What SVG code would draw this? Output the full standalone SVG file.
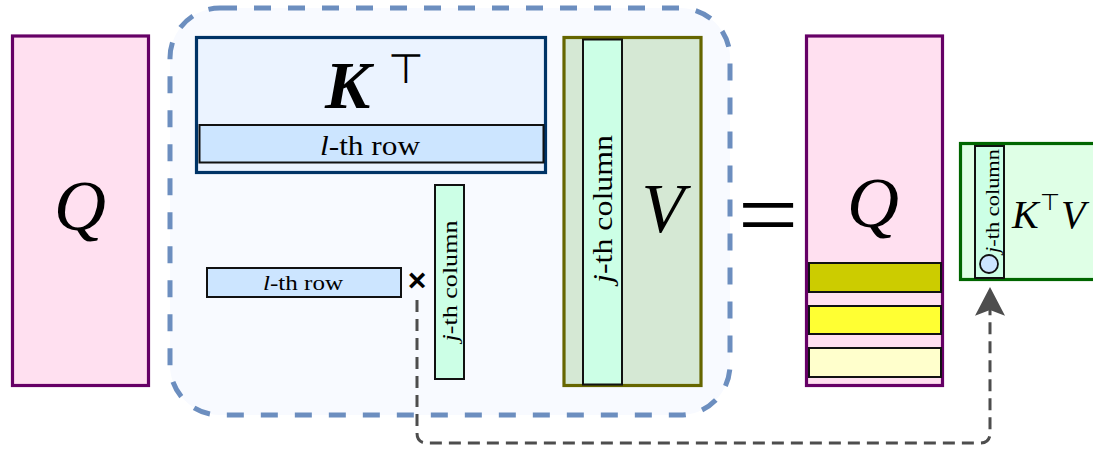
<svg xmlns="http://www.w3.org/2000/svg" width="1093" height="451" viewBox="0 0 1093 451">
<style>
.serif{font-family:"Liberation Serif","Times New Roman",serif;fill:#000}
.it{font-style:italic}
.math{font-family:"DejaVu Sans",sans-serif;font-weight:200;font-style:normal}
.cell{stroke:#111111;stroke-width:2}
.col{fill:#ccffe6}
.row{fill:#cce5ff}
</style>
<defs>
<marker id="arrow" markerUnits="userSpaceOnUse" markerWidth="30" markerHeight="30" refX="5" refY="13" orient="auto" viewBox="0 0 26 26">
<path d="M0,0 L25,13 L0,26 L5,13 Z" fill="#4d4d4d" stroke="none"/>
</marker>
</defs>
<rect width="1093" height="451" fill="#ffffff"/>

<g id="container">
<rect x="170" y="8" width="560" height="407" rx="50" ry="50" fill="#f8faff" stroke="#6c8ebf" stroke-width="5" stroke-dasharray="17 17"/>
</g>

<g id="Q-left">
<rect x="12.5" y="36" width="136" height="349.5" fill="#ffe0f0" stroke="#660066" stroke-width="3.2"/>
<text class="serif it" x="80" y="230" font-size="72" text-anchor="middle">Q</text>
</g>

<g id="KT">
<rect x="196.5" y="37.5" width="349" height="135" fill="#ebf3ff" stroke="#003366" stroke-width="3.2"/>
<text class="serif" font-size="68"><tspan class="it" x="325" y="108" font-weight="bold">K</tspan><tspan class="math" x="388" y="83" font-size="41">⊤</tspan></text>
</g>

<g id="KT-row">
<rect class="cell row" x="199.5" y="125" width="344" height="37.5"/>
<text class="serif" x="320" y="155" font-size="27" textLength="100" lengthAdjust="spacingAndGlyphs"><tspan class="it">l</tspan>-th row</text>
</g>

<g id="row-single">
<rect class="cell row" x="207" y="268" width="194" height="29"/>
<text class="serif" x="263" y="290" font-size="22" textLength="80" lengthAdjust="spacingAndGlyphs"><tspan class="it">l</tspan>-th row</text>
</g>

<g id="times">
<text x="417" y="291" font-family="Liberation Sans, Arial, sans-serif" font-weight="bold" font-size="32" text-anchor="middle">×</text>
</g>

<g id="col-single">
<rect class="cell col" x="435" y="185" width="29" height="194"/>
<text class="serif" transform="translate(457,281) rotate(-90)" x="0" y="0" font-size="22" text-anchor="middle" textLength="121" lengthAdjust="spacingAndGlyphs"><tspan class="it">j</tspan>-th column</text>
</g>

<g id="V">
<rect x="564" y="37.5" width="137" height="348" fill="#d5e8d4" stroke="#666600" stroke-width="3.2"/>
<rect class="cell col" x="583" y="39.5" width="39" height="345"/>
<text class="serif" transform="translate(612,209) rotate(-90)" x="0" y="0" font-size="27" text-anchor="middle" textLength="148" lengthAdjust="spacingAndGlyphs"><tspan class="it">j</tspan>-th column</text>
<text class="serif it" x="663" y="232" font-size="70" text-anchor="middle">V</text>
</g>

<g id="equals">
<text class="serif" transform="translate(768,247) scale(1.12,1)" x="0" y="0" font-size="96" text-anchor="middle">=</text>
</g>

<g id="Q-right">
<rect x="806.5" y="36" width="136" height="349.5" fill="#ffe0f0" stroke="#660066" stroke-width="3.2"/>
<text class="serif it" x="873" y="227" font-size="72" text-anchor="middle">Q</text>
<rect class="cell" x="809" y="263" width="132" height="29" fill="#cccc00"/>
<rect class="cell" x="809" y="306" width="132" height="28" fill="#ffff33"/>
<rect class="cell" x="809" y="348" width="132" height="29" fill="#ffffcc"/>
</g>

<g id="KTV">
<rect x="960.5" y="143.5" width="140" height="136" fill="#dfffe6" stroke="#006600" stroke-width="3.2"/>
<rect class="cell col" x="975" y="146" width="29" height="132"/>
<text class="serif" transform="translate(999,201) rotate(-90)" x="0" y="0" font-size="19" text-anchor="middle" textLength="104" lengthAdjust="spacingAndGlyphs"><tspan class="it">j</tspan>-th column</text>
<circle cx="989" cy="264" r="9" fill="#cce5ff" stroke="#111111" stroke-width="1.8"/>
<text class="serif it" font-size="40"><tspan x="1012" y="228">K</tspan><tspan class="math" x="1040" y="210" font-size="23">⊤</tspan><tspan x="1061" y="228">V</tspan></text>
</g>

<g id="connectors">
<path d="M417,300 L417,433 Q417,443 427,443 L980,443 Q990,443 990,433 L990,310" fill="none" stroke="#4d4d4d" stroke-width="3" stroke-dasharray="12 7" marker-end="url(#arrow)"/>
</g>
</svg>
